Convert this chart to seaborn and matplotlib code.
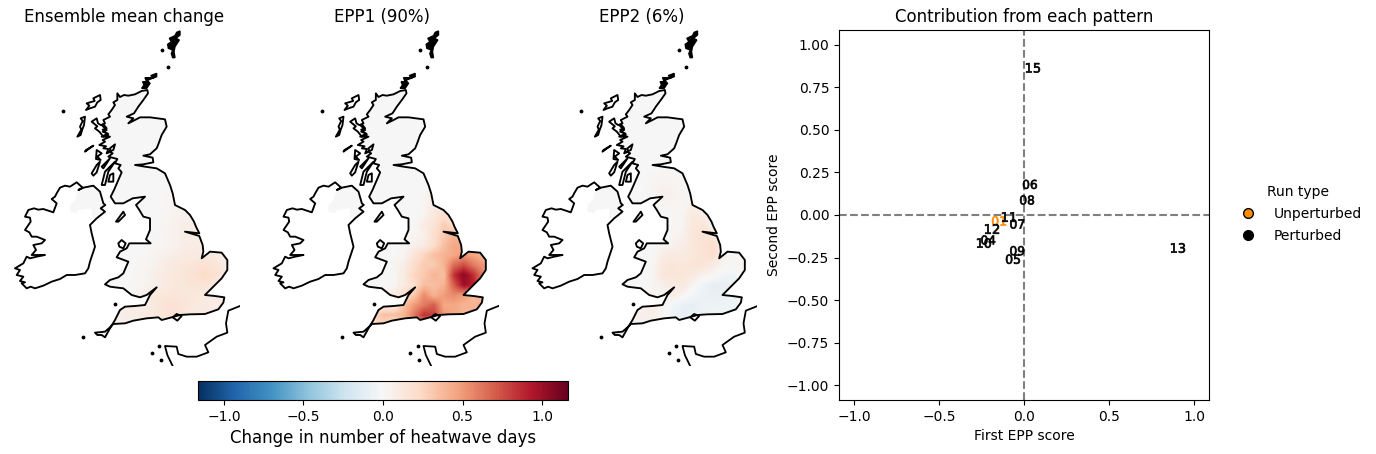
import numpy as np
import matplotlib
matplotlib.use("Agg")
import matplotlib.pyplot as plt
from matplotlib.patches import Polygon
from matplotlib.lines import Line2D
from matplotlib.cm import ScalarMappable
from matplotlib.colors import Normalize
import pandas as pd
import seaborn as sns

titles = ["Ensemble mean change", "EPP1 (90%)", "EPP2 (6%)"]

def at(points, dx, dy):
    return [(x + dx, y + dy) for x, y in points]

gb_north = at([(172,25),(180,36),(192,30),(205,32),(225,28),(245,18),(262,15),(264,25),(250,45),(235,65),(222,85),(200,95),(220,100),(205,115),(225,105),(240,97),(270,97),(315,103),(320,125),(305,150),(296,175),(290,190),(270,208),(250,212),(278,218),(280,232),(250,238),(225,240),(255,245),(290,250),(315,265),(330,300),(338,325)], 180, 195)
gb_south = at([(255,75),(285,90),(300,105),(312,125),(318,140),(328,160),(285,155),(328,168),(338,195),(340,215),(335,235),(360,215),(395,218),(412,240),(412,270),(395,295),(380,310),(365,325),(345,345),(375,348),(403,352),(400,368),(385,388),(345,402),(300,403),(270,405),(245,412),(215,420),(205,412),(170,415),(130,422),(105,430),(70,432),(60,442),(45,455),(15,458),(22,465),(35,465),(45,472),(60,445),(75,420),(90,390),(105,380),(135,378),(165,375),(180,345),(200,322),(170,345),(150,352),(125,345),(100,325),(75,322),(60,320),(45,313),(60,300),(85,292),(100,280),(115,245),(80,232),(90,215),(110,205),(118,190),(160,190),(182,190),(168,178),(180,150),(180,115),(160,110),(148,90),(138,75),(165,50),(128,55),(100,70),(75,70),(62,50),(72,30),(85,0)], 270, 480)
gb_west = at([(185,262),(175,250),(182,240),(165,235),(172,222),(145,215),(158,205),(148,200),(160,195),(165,178),(150,190),(152,200),(140,205),(145,192),(130,190),(138,184),(118,180),(135,170),(128,165),(150,155),(125,155),(144,146),(128,140),(140,135),(125,120),(135,115),(130,105),(150,95),(145,88),(155,75),(165,60),(160,52),(172,45)], 180, 195)
gb = gb_north + gb_south + gb_west
ireland = at([(200,22),(180,35),(165,32),(150,38),(140,55),(135,65),(125,72),(140,85),(130,112),(100,102),(85,104),(72,100),(55,105),(45,125),(60,128),(62,140),(45,165),(58,172),(65,185),(80,185),(105,195),(95,205),(70,210),(78,225),(65,240),(105,240),(80,245),(60,250),(50,245),(40,265),(15,280),(30,285),(20,300),(40,305),(30,318),(45,322),(35,325),(50,340),(62,335),(75,340),(100,332),(125,320),(150,312),(170,300),(195,300),(225,295),(235,280),(240,260),(255,215),(245,175),(240,150),(260,130),(285,110),(272,100),(286,90),(280,85),(270,50),(250,32),(220,38),(205,45),(218,38)], 30, 465)
ni_patch = at([(180,110),(180,90),(195,75),(205,45),(250,32),(270,50),(285,110),(260,130),(245,130),(245,100),(205,105),(200,115)], 30, 465)
france = at([(450,378),(415,392),(408,430),(412,458),(380,470),(345,495),(355,517),(320,530),(290,530),(265,522),(260,500),(225,498),(232,525),(248,558)], 270, 480)
lewis = at([(120,30),(100,40),(104,48),(80,55),(88,62),(78,75),(90,70),(105,65),(112,52),(122,45)], 180, 195)
uist = at([(75,95),(62,100),(68,108),(60,125),(64,134),(52,155),(62,150),(66,136),(72,120)], 180, 195)
skye = at([(95,110),(110,100),(114,115),(122,120),(130,118),(140,130),(128,134),(145,150),(130,155),(118,140),(105,130),(112,124)], 180, 195)
mull = at([(75,200),(100,182),(78,195)], 180, 195)
islay = at([(95,265),(110,240),(120,230),(110,262),(100,272)], 180, 195)
kintyre = at([(125,300),(135,260),(165,230),(145,260),(135,300)], 180, 195)
bute = at([(150,270),(160,265),(160,290),(145,290)], 180, 195)
jura = at([(125,245),(150,220),(130,250)], 180, 195)
mainland_isle = at([(110,195),(125,205),(112,215),(122,225),(108,222)], 180, 195)
man = at([(78,125),(100,95),(105,105),(85,125)], 270, 480)
anglesey = at([(85,190),(95,180),(107,190),(100,205),(88,200)], 270, 480)
wight = at([(248,412),(260,402),(275,408),(262,422)], 270, 480)
orkney = at([(80,145),(62,152),(72,158),(45,158),(50,170),(38,170),(42,180),(35,190),(50,190),(60,175),(52,166),(80,155)], 390, 15)
shetland = at([(150,18),(140,22),(135,32),(118,40),(124,50),(113,58),(115,70),(128,75),(124,86),(128,98),(135,98),(132,80),(135,65),(148,45),(138,40),(150,30)], 390, 15)
dots_x = [190,485,505,345,250,477,455,482]
dots_y = [273,90,142,852,950,977,998,1020]

# heat-wave change on a coarse grid (west to east, north to south)
grid_x0, grid_x1, grid_y0, grid_y1 = 270, 690, 450, 960
mean_change = [
[0,0,0,0,0,0,0,0,0,0,0,0,0,0],
[0,0,0,0,0,0,0,0,0.01,0.01,0,0,0,0],
[0,0,0,0,0,0,0,0.01,0.02,0.02,0.01,0,0,0],
[0,0,0,0,0,0,0,0.01,0.03,0.04,0.03,0,0,0],
[0,0,0,0,0,0,0,0.02,0.04,0.05,0.05,0.03,0,0],
[0,0,0,0,0,0,0,0.02,0.05,0.07,0.06,0.05,0,0],
[0,0,0,0,0,0,0.01,0.03,0.05,0.07,0.07,0.06,0.03,0],
[0,0,0,0,0,0,0.02,0.03,0.05,0.08,0.09,0.08,0.05,0.02],
[0,0,0,0,0,0.01,0.04,0.05,0.08,0.1,0.1,0.12,0.1,0.06],
[0,0,0,0,0.01,0.02,0.05,0.09,0.12,0.13,0.15,0.17,0.15,0.1],
[0,0,0,0,0.01,0.03,0.07,0.1,0.12,0.14,0.18,0.22,0.18,0.11],
[0,0,0,0,0.01,0.03,0.06,0.1,0.13,0.13,0.15,0.15,0.12,0.1],
[0,0,0,0.02,0.04,0.07,0.12,0.13,0.14,0.13,0.12,0.1,0.1,0.09],
[0,0,0.04,0.08,0.1,0.08,0.12,0.17,0.17,0.14,0.12,0.1,0.09,0.08],
[0,0.03,0.05,0.07,0.07,0.09,0.12,0.16,0.17,0.13,0.1,0.09,0.08,0.07],
[0.02,0.03,0.05,0.06,0.06,0.07,0.08,0.08,0.08,0.07,0.06,0.05,0.05,0.05],
[0.02,0.03,0.03,0.03,0.03,0.03,0.03,0.03,0.03,0.03,0.03,0.03,0.03,0.03],
]
epp1 = [
[0,0,0,0,0,0,0,0,0,0.02,0,0,0,0],
[0,0,0,0,0,0,0,0,0.03,0.05,0.02,0,0,0],
[0,0,0,0,0,0,0,0.02,0.1,0.1,0.05,0,0,0],
[0,0,0,0,0,0,0,0.02,0.1,0.15,0.12,0,0,0],
[0,0,0,0,0,0,0,0.03,0.12,0.18,0.15,0.05,0,0],
[0,0,0,0,0,0,0,0.1,0.15,0.3,0.2,0.1,0,0],
[0,0,0,0,0,0,0.02,0.05,0.2,0.3,0.4,0.35,0.1,0],
[0,0,0,0,0,0.01,0.05,0.1,0.2,0.35,0.45,0.45,0.45,0.1],
[0,0,0,0,0,0.03,0.15,0.25,0.35,0.4,0.45,0.5,0.45,0.4],
[0,0,0,0,0.02,0.08,0.2,0.3,0.3,0.4,0.65,0.75,0.6,0.5],
[0,0,0,0,0.02,0.1,0.25,0.3,0.4,0.35,0.85,1.05,0.85,0.55],
[0,0,0,0,0.02,0.1,0.2,0.35,0.35,0.4,0.7,1.0,0.9,0.5],
[0,0,0,0.05,0.1,0.2,0.3,0.55,0.4,0.5,0.55,0.5,0.35,0.45],
[0,0,0.08,0.1,0.1,0.35,0.5,0.6,0.7,0.45,0.45,0.4,0.4,0.4],
[0,0.1,0.25,0.35,0.35,0.4,0.6,0.85,0.8,0.5,0.45,0.4,0.4,0.35],
[0.05,0.1,0.2,0.25,0.15,0.3,0.4,0.5,0.5,0.4,0.3,0.3,0.3,0.3],
[0.05,0.05,0.1,0.1,0.1,0.1,0.1,0.1,0.1,0.1,0.1,0.1,0.1,0.1],
]
epp2 = [
[0,0,0,0,0.02,0.03,0.02,0,0,0,0,0,0,0],
[0,0,0,0,0.03,0.04,0.03,0.01,0,0,0,0,0,0],
[0,0,0,0,0.03,0.06,0.05,0.01,0.01,0,0,0,0,0],
[0,0,0,0,0.01,0.02,0.02,0.02,0.06,0.03,0,0,0,0],
[0,0,0,0,0,0,0.01,0.03,0.12,0.08,0.01,0,0,0],
[0,0,0,0,0,0,0.01,0.03,0.13,0.14,0.06,0,0,0],
[0,0,0,0,0,0.01,0.02,0.05,0.14,0.15,0.12,0.02,0,0],
[0,0,0,0,0.01,0.02,0.05,0.08,0.13,0.16,0.2,0.06,0,0],
[0,0,0,0,0.01,0.08,0.11,0.1,0.13,0.16,0.19,0.07,-0.02,0.02],
[0,0,0,0,0.02,0.12,0.14,0.13,0.15,0.14,0.1,0.03,0.02,0.03],
[0,0,0,0,0.02,0.14,0.14,0.13,0.11,0.05,0.02,-0.03,-0.04,-0.01],
[0,0,0,0,0.02,0.06,0.1,0.12,0.03,-0.05,-0.1,-0.1,-0.08,-0.04],
[0,0,0,0.02,0.04,0.04,0.08,0.02,-0.03,-0.07,-0.09,-0.09,-0.07,-0.05],
[0,0,0.02,0.05,0.07,0.04,-0.03,-0.08,-0.1,-0.06,-0.06,-0.05,-0.04,-0.03],
[0,0.02,0.05,0.06,0.07,0.02,-0.06,-0.1,-0.08,-0.06,-0.05,-0.04,-0.03,-0.02],
[0.01,0.02,0.02,0.05,0.03,0.01,-0.02,-0.04,-0.04,-0.03,-0.03,-0.02,-0.02,-0.02],
[0.01,0.01,0.01,0.01,0.01,0.01,0,0,0,0,0,0,0,0],
]
fields = [mean_change, epp1, epp2]

# ensemble member scores
members = ["01","04","05","06","07","08","09","10","11","12","13","15"]
first_score = [-0.147,-0.21,-0.065,0.035,-0.04,0.018,-0.04,-0.235,-0.088,-0.188,0.906,0.053]
second_score = [-0.035,-0.147,-0.26,0.18,-0.053,0.088,-0.21,-0.165,-0.012,-0.082,-0.194,0.865]
run_type = ["Unperturbed"] + ["Perturbed"] * 11

W, H = 1376, 454
fig = plt.figure(figsize=(W / 100, H / 100), dpi=100)
cmap = plt.get_cmap("RdBu_r")
vmax = 1.163
norm = Normalize(-vmax, vmax)
neutral = cmap(0.5)

def axpx(l, t, r, b):
    return [l / W, 1 - b / H, (r - l) / W, (b - t) / H]

lefts = [8, 266.5, 525.5]
for left, title, field in zip(lefts, titles, fields):
    ax = fig.add_axes(axpx(left, 30, left + 232, 366))
    ax.axis("off")
    ax.set_title(title, fontsize=12, y=1.0, pad=6)
    land = Polygon(gb, closed=True, fc=neutral, ec="none", zorder=1)
    ax.add_patch(land)
    ax.add_patch(Polygon(ni_patch, closed=True, fc=neutral, ec="none", zorder=1))
    im = ax.imshow(np.array(field), cmap=cmap, norm=norm, interpolation="bilinear",
                   extent=(grid_x0, grid_x1, grid_y1, grid_y0), zorder=2, aspect="auto")
    im.set_clip_path(land)
    ax.set_xlim(24, 720)
    ax.set_ylim(1038, 30)
    for shape in (gb, ireland, lewis, uist, skye, mull, islay, kintyre, bute, jura, mainland_isle, man, anglesey, wight):
        ax.add_patch(Polygon(shape, closed=True, fc="none", ec="black", lw=1.35, joinstyle="round", zorder=3))
    for shape in (orkney, shetland):
        ax.add_patch(Polygon(shape, closed=True, fc="black", ec="black", lw=1.0, zorder=3))
    fx, fy = zip(*france)
    ax.plot(fx, fy, color="black", lw=1.3, zorder=3)
    ax.scatter(dots_x, dots_y, s=3, color="black", zorder=3)

cax = fig.add_axes(axpx(198, 381, 568, 400))
cb = fig.colorbar(ScalarMappable(norm=norm, cmap=cmap), cax=cax, orientation="horizontal")
cb.set_ticks([-1.0, -0.5, 0.0, 0.5, 1.0])
cb.set_label("Change in number of heatwave days", fontsize=12)

ax = fig.add_axes(axpx(839, 30, 1209, 400))
df = pd.DataFrame({"first": first_score, "second": second_score, "member": members, "run": run_type})
sns.scatterplot(data=df, x="first", y="second", hue="run", style="member",
                palette={"Unperturbed": "darkorange", "Perturbed": "black"},
                markers={m: f"${m}$" for m in members}, s=100, edgecolor="face", linewidth=0.5,
                legend=False, ax=ax, zorder=3)
ax.axhline(0, color="gray", ls="--", lw=1.5, zorder=1)
ax.axvline(0, color="gray", ls="--", lw=1.5, zorder=1)
lim = 1.088
ax.set_xlim(-lim, lim)
ax.set_ylim(-lim, lim)
ax.set_xticks(np.arange(-1, 1.01, 0.5))
ax.set_yticks(np.arange(-1, 1.01, 0.25))
ax.set_xlabel("First EPP score", fontsize=10)
ax.set_ylabel("Second EPP score", fontsize=10)
ax.set_title("Contribution from each pattern", fontsize=12, pad=6)
handles = [Line2D([], [], marker="o", ls="none", mfc="darkorange", mec="black", ms=7, label="Unperturbed"),
           Line2D([], [], marker="o", ls="none", mfc="black", mec="black", ms=7, label="Perturbed")]
fig.legend(handles=handles, title="Run type", frameon=False, fontsize=10, title_fontsize=10,
           loc="center left", bbox_to_anchor=(1222 / W, 1 - 214 / H), labelspacing=0.55)

fig.savefig("out.png", dpi=100)
